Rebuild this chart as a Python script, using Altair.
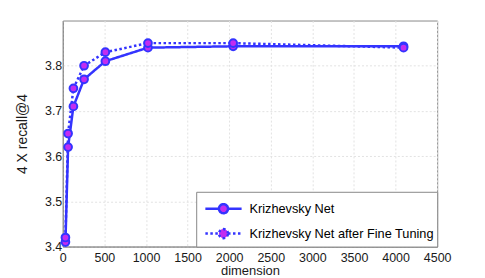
import altair as alt
import pandas as pd

dims = [32, 64, 128, 256, 512, 1024, 2048, 4096]
series_names = ["Krizhevsky Net", "Krizhevsky Net after Fine Tuning"]
base_vals = [3.41, 3.62, 3.71, 3.77, 3.81, 3.84, 3.843, 3.843]
tuned_vals = [3.42, 3.65, 3.75, 3.80, 3.83, 3.85, 3.85, 3.84]
x_ticks = [0, 500, 1000, 1500, 2000, 2500, 3000, 3500, 4000, 4500]
y_ticks = [3.4, 3.5, 3.6, 3.7, 3.8]

rows = []
for d, v in zip(dims, base_vals):
    rows.append({"dimension": d, "value": v, "series": series_names[0]})
for d, v in zip(dims, tuned_vals):
    rows.append({"dimension": d, "value": v, "series": series_names[1]})
df = pd.DataFrame(rows)

BLUE = "#3434ff"
MAG = "#c22cf0"
FONT = "Liberation Sans"

x_enc = alt.X("dimension:Q", scale=alt.Scale(domain=[0, 4500], nice=False),
              axis=alt.Axis(values=x_ticks, title="dimension", format="d",
                            labelPadding=5, titleFontSize=13, titlePadding=1))
y_enc = alt.Y("value:Q", scale=alt.Scale(domain=[3.4, 3.9], nice=False, zero=False),
              axis=alt.Axis(values=y_ticks, title="4 X recall@4", format=".1f",
                            labelPadding=1, titleFontSize=14, titlePadding=15))

legend_path = ("M-0.6,0 L0.45,0 M1.15,0 L2.2,0 "
               "M1.15,0 A0.35,0.35 0 1,0 0.45,0 A0.35,0.35 0 1,0 1.15,0 Z")

lines = alt.Chart(df).mark_line(color=BLUE, strokeWidth=2.5).encode(
    x=x_enc, y=y_enc,
    strokeDash=alt.StrokeDash(
        "series:N",
        scale=alt.Scale(domain=series_names, range=[[1, 0], [2.5, 2.5]]),
        legend=alt.Legend(
            title=None, orient="bottom-right", offset=0,
            symbolType=legend_path, symbolSize=676,
            symbolFillColor=MAG, symbolStrokeColor=BLUE,
            symbolStrokeWidth=2.5, symbolOpacity=1,
            labelFontSize=12.8, labelFont=FONT, labelColor="#000000",
            labelOffset=22, labelLimit=400,
            padding=2.5, rowPadding=0,
            strokeColor="#888888", fillColor="#ffffff", cornerRadius=0,
        ),
    ),
)

points = alt.Chart(df).mark_point(
    filled=False, fill=MAG, fillOpacity=1, stroke=BLUE, strokeWidth=2,
    size=60, shape="circle", opacity=1
).encode(x=x_enc, y=y_enc, detail="series:N")

chart = alt.layer(lines, points).properties(
    width=376, height=227,
    autosize=alt.AutoSizeParams(type="none"),
    padding={"left": 55, "top": 12, "right": 40, "bottom": 30},
).configure_view(
    stroke="#888888", strokeWidth=1
).configure_axis(
    grid=True, gridColor="#e2e2e2", gridDash=[2, 2], gridWidth=1,
    domainColor="#888888", domainWidth=1,
    ticks=False, labelFont=FONT, labelFontSize=12.5, labelColor="#1a1a1a",
    titleFont=FONT, titleFontWeight="normal", titleColor="#1a1a1a",
).configure_axisX(
    labelFlush=False
)

chart.save("out.html", embed_options={"renderer": "svg", "actions": False})
